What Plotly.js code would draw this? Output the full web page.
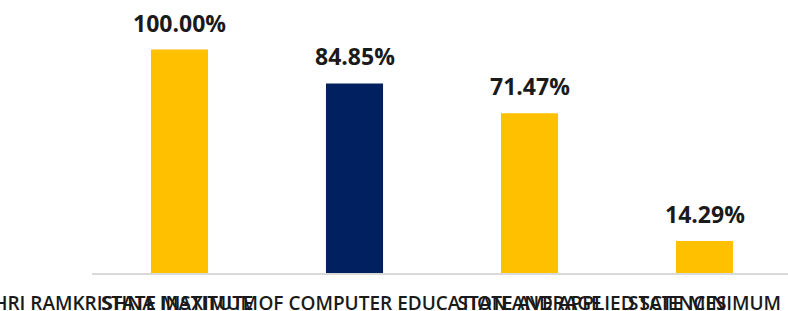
<!DOCTYPE html>
<html>
<head>
<meta charset="utf-8">
<script src="https://cdn.plot.ly/plotly-3.0.1.min.js"></script>
<style>html,body{margin:0;padding:0;background:#fff;}#chart{width:788px;height:311px;}</style>
</head>
<body>
<div id="chart"></div>
<script>
var categories = ["STATE MAXIMUM", "SHRI RAMKRISHNA INSTITUTE OF COMPUTER EDUCATION AND APPLIED SCIENCES", "STATE AVERAGE", "STATE MINIMUM"];
var values = [100.00, 84.85, 71.47, 14.29];
var barColors = ["#FFC000", "#002060", "#FFC000", "#FFC000"];

var xIdx = categories.map(function (c, i) { return i; });

var trace = {
  type: "bar",
  x: xIdx,
  y: values,
  width: 0.326,
  marker: { color: barColors },
  hoverinfo: "none"
};

var annotations = values.map(function (v, i) {
  return {
    x: i, y: v, xref: "x", yref: "y",
    text: v.toFixed(2) + "%",
    showarrow: false, yanchor: "bottom", xanchor: "center", yshift: 9,
    font: { family: "Open Sans", size: 23, color: "#1a1a1a", weight: "bold" }
  };
});

var layout = {
  width: 788, height: 311,
  margin: { l: 92, r: 0, t: 10, b: 38 },
  paper_bgcolor: "#ffffff", plot_bgcolor: "#ffffff",
  showlegend: false,
  xaxis: {
    range: [-0.5, 3.477],
    tickmode: "array", tickvals: xIdx, ticktext: categories,
    tickangle: 0,
    ticklabeloverflow: "allow",
    showgrid: false, zeroline: false,
    showline: true, linecolor: "#d9d9d9", linewidth: 1.5,
    ticks: "", ticklabelstandoff: 13,
    tickfont: { family: "Open Sans", size: 19, color: "#1a1a1a", weight: 600 },
    fixedrange: true
  },
  yaxis: {
    range: [0, 117.7], visible: false, fixedrange: true
  },
  annotations: annotations
};

Plotly.newPlot("chart", [trace], layout, { displayModeBar: false, staticPlot: true });
</script>
</body>
</html>
